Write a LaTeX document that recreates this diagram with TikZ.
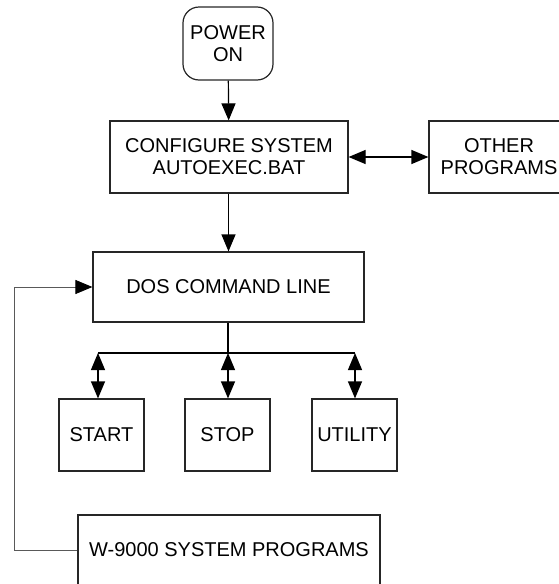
\documentclass[tikz,border=0pt]{standalone}
\usepackage{fontspec}
\setmainfont{Liberation Sans}
\usetikzlibrary{arrows.meta}
\begin{document}
\begin{tikzpicture}[x=0.5pt, y=-0.5pt, line width=0.6pt, >={Triangle[length=8.5pt,width=7pt]},
  main/.style = {draw=black!85, align=center, font=\fontsize{10}{11}\selectfont, inner sep=0pt},
  small/.style = {main, minimum width=42.5pt, minimum height=36pt}]
\useasboundingbox (0,0) rectangle (558,584);
\node[main, rounded corners=8pt, minimum width=45pt, minimum height=36.5pt] (power) at (228,43.5) {POWER\\ON};
\node[main, minimum width=119pt, minimum height=36pt] (config) at (229,157) {CONFIGURE SYSTEM\\AUTOEXEC.BAT};
\node[main, minimum width=70pt, minimum height=36pt] (other) at (499,157) {OTHER\\PROGRAMS};
\node[main, minimum width=135.5pt, minimum height=35pt] (dos) at (228.5,287) {DOS COMMAND LINE};
\node[small] (start) at (101.5,435) {START};
\node[small] (stop) at (227.5,435) {STOP};
\node[small] (util) at (354.5,435) {UTILITY};
\node[main, minimum width=151pt, minimum height=35pt] (sys) at (229,550) {W-9000 SYSTEM PROGRAMS};
\coordinate (b1) at (98,353);
\coordinate (b2) at (228,353);
\coordinate (b3) at (355,353);
\draw[->] (power) -- (config);
\draw[<->] (config) -- (other);
\draw[->] (config.south -| dos.north) -- (dos);
\draw (dos.south -| b2) -- (b2);
\draw (b1) -- (b3);
\draw[<->] (b1) -- (b1 |- start.north);
\draw[<->] (b2) -- (b2 |- stop.north);
\draw[<->] (b3) -- (b3 |- util.north);
\draw[-{Triangle[length=8.5pt,width=7pt,color=black]}, black!65, line width=0.45pt] (sys.west) -- ++(-63,0) |- (dos.west);
\end{tikzpicture}
\end{document}
